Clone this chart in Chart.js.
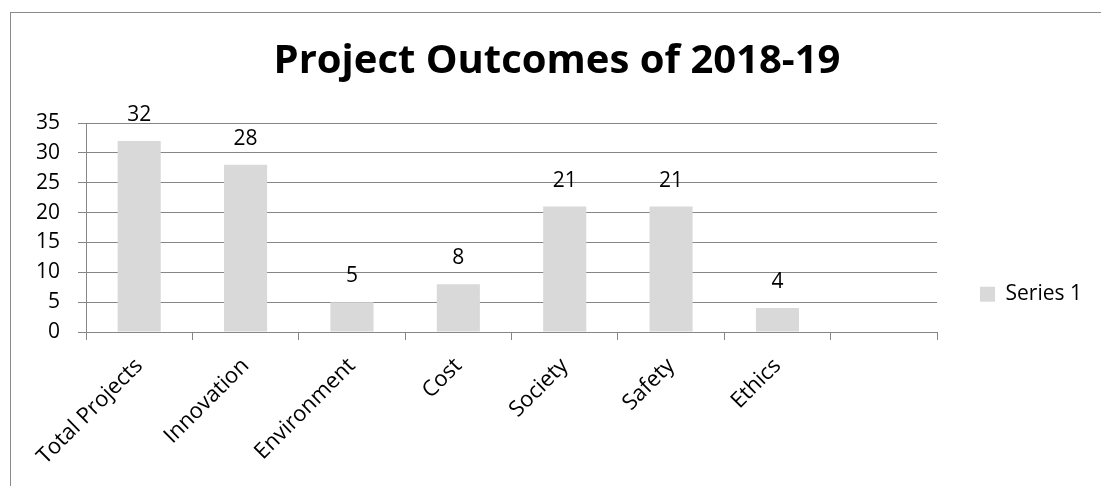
<!DOCTYPE html>
<html>
<head>
<meta charset="utf-8">
<title>Project Outcomes of 2018-19</title>
<script src="https://cdn.jsdelivr.net/npm/chart.js@4.4.1/dist/chart.umd.min.js"></script>
<style>
	html, body {
		margin: 0;
		padding: 0;
		background: #ffffff;
		overflow: hidden;
	}
	#wrap {
		position: relative;
		width: 1101px;
		height: 486px;
	}
	/* outer chart frame, only the top and left edges fall inside the window */
	#frame {
		position: absolute;
		left: 10px;
		top: 12px;
		width: 1200px;
		height: 600px;
		border: 1px solid #8a8a8a;
		box-sizing: border-box;
	}
	#outcomesChart {
		position: absolute;
		left: 0;
		top: 0;
	}
</style>
</head>
<body>
<div id="wrap">
	<div id="frame"></div>
	<canvas id="outcomesChart" width="1101" height="486"></canvas>
</div>
<script>
// chart data
const categories = ["Total Projects", "Innovation", "Environment", "Cost", "Society", "Safety", "Ethics", ""];
const outcomeValues = [32, 28, 5, 8, 21, 21, 4, null];
const seriesName = "Series 1";
const yTicks = { min: 0, max: 35, step: 5 };

const FONT = '"Open Sans", "Liberation Sans", sans-serif';
const LINE_GREY = "#868686";
const BAR_GREY = "#d9d9d9";

/*######################################*
||      Value labels above the bars     ||
*######################################*/

const barValueLabels = {
	id: "barValueLabels",
	afterDatasetsDraw(chart) {
		const ctx = chart.ctx;
		const meta = chart.getDatasetMeta(0);
		ctx.save();
		ctx.font = "21px " + FONT;
		ctx.fillStyle = "#000000";
		ctx.textAlign = "center";
		ctx.textBaseline = "alphabetic";
		meta.data.forEach((bar, i) => {
			const v = outcomeValues[i];
			if (v === null || v === undefined) return;
			ctx.fillText(String(v), bar.x, bar.y - 20);
		});
		ctx.restore();
	},
};

document.addEventListener("DOMContentLoaded", function () {
	createOutcomesChart();
});

function createOutcomesChart() {
	new Chart("outcomesChart", {
		type: "bar",
		data: {
			labels: categories,
			datasets: [
				{
					label: seriesName,
					data: outcomeValues,
					backgroundColor: BAR_GREY,
					borderWidth: 0,
					categoryPercentage: 1.0,
					barPercentage: 0.405,
				},
			],
		},
		options: {
			responsive: false,
			animation: false,
			devicePixelRatio: 1,
			layout: {
				padding: { left: 22, right: 9, top: 0, bottom: 0 },
			},
			plugins: {
				title: {
					display: true,
					text: "Project Outcomes of 2018-19",
					color: "#000000",
					font: { family: FONT, size: 40, weight: "bold" },
					padding: { top: 38, bottom: 37 },
				},
				legend: {
					position: "right",
					align: "center",
					// empty legend title only pushes the entry down the right column
					title: {
						display: true,
						text: "",
						font: { size: 12 },
						padding: { top: 0, bottom: 88 },
					},
					labels: {
						boxWidth: 15,
						boxHeight: 15,
						padding: 43,
						color: "#000000",
						font: { family: FONT, size: 21 },
					},
				},
				tooltip: { enabled: false },
			},
			scales: {
				x: {
					grid: {
						display: true,
						offset: true,
						drawOnChartArea: false,
						drawTicks: true,
						tickLength: 8,
						color: LINE_GREY,
					},
					border: { display: true, color: LINE_GREY, width: 1 },
					ticks: {
						autoSkip: false,
						minRotation: 45,
						maxRotation: 45,
						padding: 13,
						color: "#000000",
						font: { family: FONT, size: 22 },
					},
					afterFit: function (scale) {
						scale.height = 154;
					},
				},
				y: {
					min: yTicks.min,
					max: yTicks.max,
					grid: {
						color: LINE_GREY,
						drawTicks: true,
						tickLength: 8,
					},
					border: { display: true, color: LINE_GREY, width: 1 },
					ticks: {
						stepSize: yTicks.step,
						padding: 18,
						color: "#000000",
						font: { family: FONT, size: 21 },
					},
					afterFit: function (scale) {
						scale.width = 64;
					},
				},
			},
		},
		plugins: [barValueLabels],
	});
}
</script>
</body>
</html>
